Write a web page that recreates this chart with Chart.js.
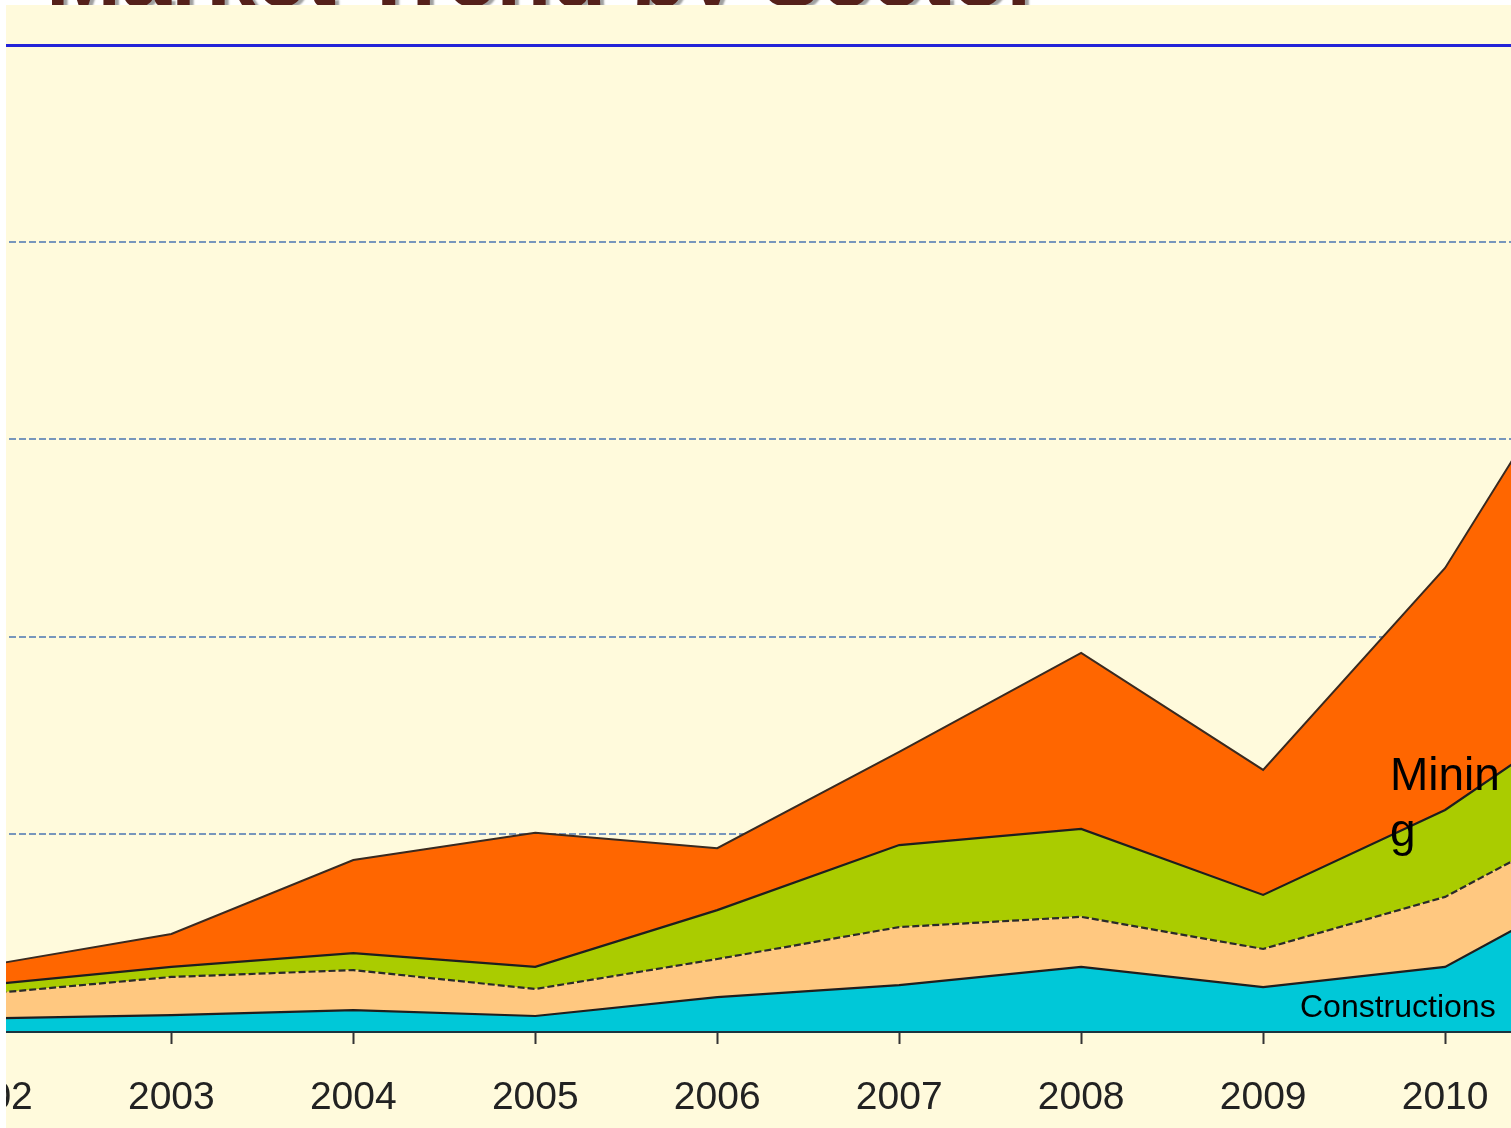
<!DOCTYPE html>
<html><head><meta charset="utf-8">
<script src="https://cdn.jsdelivr.net/npm/chart.js@4/dist/chart.umd.min.js"></script>
<style>
html,body{margin:0;padding:0;background:#fff;width:1511px;height:1128px;overflow:hidden;}
#title{position:absolute;left:46px;top:-70px;font-family:"Liberation Sans",Arial,sans-serif;font-weight:bold;font-size:90px;line-height:90px;color:#55201a;text-shadow:4px 2px 2px #a0a0a0;white-space:nowrap;z-index:1;}
#box{position:absolute;left:6px;top:5px;width:1505px;height:1123px;background:#fffadc;overflow:hidden;z-index:2;}
#box canvas{position:absolute;left:-77px;top:0;}
.lab{position:absolute;font-family:"Liberation Sans",Arial,sans-serif;color:#000;z-index:3;}
#mining{left:1390px;top:746px;width:120px;font-size:46px;line-height:56px;word-break:break-all;}
#constr{left:1300px;top:990px;font-size:32px;line-height:32px;white-space:nowrap;}
</style></head><body>
<div id="title">Market Trend by Sector</div>
<div id="box"></div>
<div class="lab" id="mining">Mining</div>
<div class="lab" id="constr">Constructions</div>
<script>
const years = [2002, 2003, 2004, 2005, 2006, 2007, 2008, 2009, 2010, 2011];
const seriesNames = ["Constructions", "Sector B", "Sector C", "Mining"];
const constructions = [6.4, 8.1, 10.6, 7.6, 17.2, 23.3, 32.5, 22.3, 32.5, 82.7];
const sectorB = [12.6, 19.3, 20.3, 13.7, 19.3, 29.4, 25.4, 19.3, 35.5, 34.5];
const sectorC = [4.5, 5.1, 8.6, 11.2, 24.8, 41.6, 44.6, 27.4, 44.1, 57.8];
const mining = [9.9, 16.7, 47.2, 68.0, 31.4, 47.2, 89.2, 63.4, 122.7, 207.9];
const yTicks = [0, 100, 200, 300, 400, 500];

const pts = arr => years.map((yr, i) => ({x: yr, y: arr[i]}));

function makeConfig() {
  return {
    type: 'line',
    data: {datasets: [
      {label: seriesNames[0], data: pts(constructions), backgroundColor: '#00c8d8', borderColor: '#1e1e1e', borderWidth: 2.2, fill: 'origin'},
      {label: seriesNames[1], data: pts(sectorB), backgroundColor: '#ffc880', borderColor: '#2a2a2a', borderWidth: 2.2, borderDash: [7, 3], fill: '-1'},
      {label: seriesNames[2], data: pts(sectorC), backgroundColor: '#aacc00', borderColor: '#1e1e1e', borderWidth: 2.2, fill: '-1'},
      {label: seriesNames[3], data: pts(mining), backgroundColor: '#ff6600', borderColor: '#3a2a20', borderWidth: 2, fill: '-1'}
    ]},
    options: {
      responsive: false,
      maintainAspectRatio: false,
      animation: false,
      events: [],
      layout: {padding: {left: 60, right: 60, top: 40, bottom: 0}},
      elements: {point: {radius: 0}, line: {tension: 0}},
      plugins: {legend: {display: false}, tooltip: {enabled: false}},
      scales: {
        x: {
          type: 'linear', position: 'bottom',
          min: years[0], max: years[years.length - 1],
          afterBuildTicks: s => { s.ticks = years.map(v => ({value: v})); },
          afterFit: s => { s.height = 97; },
          ticks: {
            autoSkip: false, maxRotation: 0, padding: 31,
            color: '#222',
            font: {family: '"Liberation Sans", Arial, sans-serif', size: 39},
            callback: v => String(v)
          },
          grid: {drawOnChartArea: false, drawTicks: true, tickLength: 13, tickWidth: 2, tickColor: '#333'},
          border: {display: true, color: '#1a3440', width: 3}
        },
        xTop: {
          type: 'linear', position: 'top', min: 0, max: 1,
          afterFit: s => { s.height = 0; },
          ticks: {display: false},
          grid: {display: false, drawTicks: false},
          border: {display: true, color: '#2323d8', width: 3}
        },
        y: {
          stacked: true, min: yTicks[0], max: yTicks[yTicks.length - 1],
          afterBuildTicks: s => { s.ticks = yTicks.map(v => ({value: v})); },
          afterFit: s => { s.width = 0; },
          ticks: {display: false},
          grid: {
            drawTicks: false, lineWidth: 2,
            color: ctx => (ctx.tick && (ctx.tick.value === 0 || ctx.tick.value === 500)) ? 'rgba(0,0,0,0)' : '#7896bc'
          },
          border: {display: false, dash: [7, 3]}
        }
      }
    }
  };
}

// target geometry inside the box: first year at x=-17, last year at x=1621
const TARGET_LEFT = -17, TARGET_W = 1638, H = 1123;
const box = document.getElementById('box');

function build(w) {
  const cv = document.createElement('canvas');
  cv.width = w; cv.height = H;
  cv.style.width = w + 'px'; cv.style.height = H + 'px';
  box.appendChild(cv);
  return {cv, chart: new Chart(cv, makeConfig())};
}

// measure the side paddings once, then rebuild at the exact width
let m = build(1800);
const padL = m.chart.chartArea.left, padR = 1800 - m.chart.chartArea.right;
m.chart.destroy(); m.cv.remove();
const W = Math.round(padL + TARGET_W + padR);
const f = build(W);
f.cv.style.left = (TARGET_LEFT - f.chart.chartArea.left) + 'px';
</script>
</body></html>
